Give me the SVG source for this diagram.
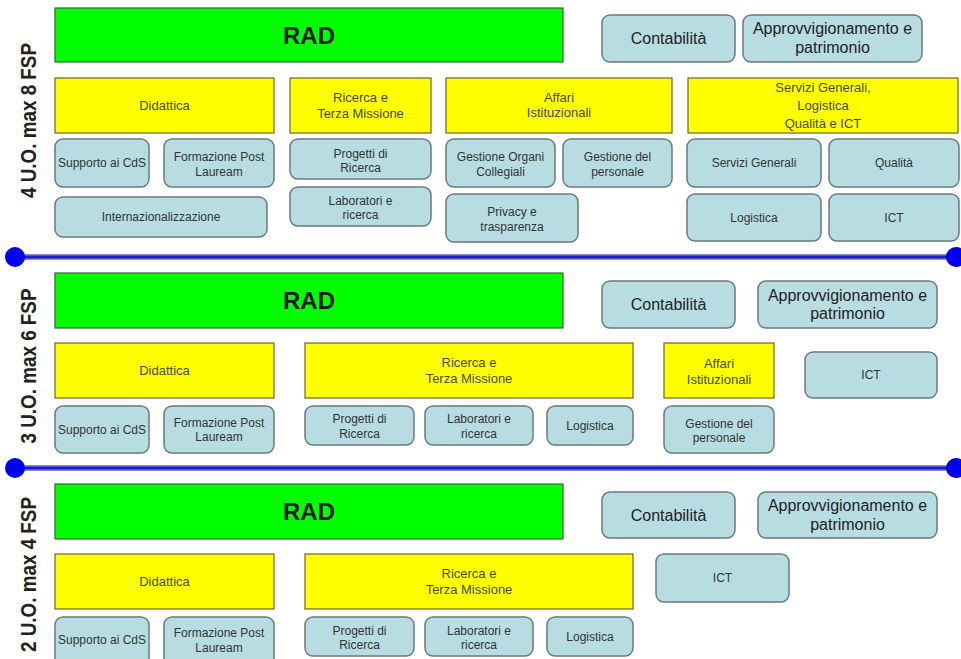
<svg xmlns="http://www.w3.org/2000/svg" width="961" height="659" viewBox="0 0 961 659">
<style>
.rad{fill:#00ff00;stroke:#2f6a2f;stroke-width:1.2}
.y{fill:#ffff00;stroke:#6f6430;stroke-width:1.2}
.b{fill:#b7dde2;stroke:#6c7a7c;stroke-width:1.5}
text{font-family:"Liberation Sans",Arial,sans-serif;text-anchor:middle}
.tr{font-size:24px;font-weight:bold;fill:#1a1a1a}
.ty{font-size:13px;fill:#4a4a33}
.ts{font-size:12px;fill:#333}
.tm{font-size:16px;fill:#222}
.lbl{font-size:22px;font-weight:bold;fill:#222}
.sep{stroke:#8a8ad8;stroke-width:6}
.sepc{stroke:#1c1cc8;stroke-width:3}
.dot{fill:#0000ee}
</style>
<rect width="961" height="659" fill="#ffffff"/>

<g id="separators">
<line class="sep" x1="15" y1="257" x2="956" y2="257"/>
<line class="sepc" x1="15" y1="257" x2="956" y2="257"/>
<circle class="dot" cx="15" cy="257" r="10"/>
<circle class="dot" cx="956" cy="257" r="10"/>
<line class="sep" x1="15" y1="468" x2="956" y2="468"/>
<line class="sepc" x1="15" y1="468" x2="956" y2="468"/>
<circle class="dot" cx="15" cy="468" r="10"/>
<circle class="dot" cx="956" cy="468" r="10"/>
</g>

<g id="labels">
<text class="lbl" transform="translate(36,120.5) rotate(-90)" textLength="155" lengthAdjust="spacingAndGlyphs">4 U.O. max 8 FSP</text>
<text class="lbl" transform="translate(36,366) rotate(-90)" textLength="155" lengthAdjust="spacingAndGlyphs">3 U.O. max 6 FSP</text>
<text class="lbl" transform="translate(36,574.5) rotate(-90)" textLength="155" lengthAdjust="spacingAndGlyphs">2 U.O. max 4 FSP</text>
</g>

<!-- Section 1 -->
<g id="s1-rad"><rect class="rad" x="55" y="8" width="508" height="54"/><text class="tr" x="309" y="43.5">RAD</text></g>
<g id="s1-contabilita"><rect class="b" x="602" y="15" width="133" height="47" rx="8"/><text class="tm" x="668.5" y="44">Contabilità</text></g>
<g id="s1-approv"><rect class="b" x="743" y="15" width="179" height="47" rx="8"/><text class="tm" x="832.5" y="34">Approvvigionamento e</text><text class="tm" x="832.5" y="53">patrimonio</text></g>
<g id="s1-didattica"><rect class="y" x="55" y="78" width="219" height="55"/><text class="ty" x="164.5" y="110">Didattica</text></g>
<g id="s1-ricerca"><rect class="y" x="290" y="78" width="141" height="55"/><text class="ty" x="360.5" y="101.5">Ricerca e</text><text class="ty" x="360.5" y="117.5">Terza Missione</text></g>
<g id="s1-affari"><rect class="y" x="446" y="78" width="226" height="55"/><text class="ty" x="559" y="101.5">Affari</text><text class="ty" x="559" y="117">Istituzionali</text></g>
<g id="s1-servizi"><rect class="y" x="688" y="78" width="270" height="55"/><text class="ty" x="823" y="92">Servizi Generali,</text><text class="ty" x="823" y="110">Logistica</text><text class="ty" x="823" y="127.5">Qualità e ICT</text></g>
<g id="s1-supporto"><rect class="b" x="55" y="139" width="94" height="48" rx="8"/><text class="ts" x="102" y="167">Supporto ai CdS</text></g>
<g id="s1-formazione"><rect class="b" x="164" y="139" width="110" height="48" rx="8"/><text class="ts" x="219" y="161">Formazione Post</text><text class="ts" x="219" y="176">Lauream</text></g>
<g id="s1-intern"><rect class="b" x="55" y="197" width="212" height="40" rx="8"/><text class="ts" x="161" y="221">Internazionalizzazione</text></g>
<g id="s1-progetti"><rect class="b" x="290" y="139" width="141" height="40" rx="8"/><text class="ts" x="360.5" y="158">Progetti di</text><text class="ts" x="360.5" y="172">Ricerca</text></g>
<g id="s1-laboratori"><rect class="b" x="290" y="187" width="141" height="39" rx="8"/><text class="ts" x="360.5" y="205">Laboratori e</text><text class="ts" x="360.5" y="219">ricerca</text></g>
<g id="s1-organi"><rect class="b" x="446" y="139" width="109" height="48" rx="8"/><text class="ts" x="500.5" y="161">Gestione Organi</text><text class="ts" x="500.5" y="176">Collegiali</text></g>
<g id="s1-personale"><rect class="b" x="563" y="139" width="109" height="48" rx="8"/><text class="ts" x="617.5" y="161">Gestione del</text><text class="ts" x="617.5" y="176">personale</text></g>
<g id="s1-privacy"><rect class="b" x="446" y="194" width="132" height="48" rx="8"/><text class="ts" x="512" y="216">Privacy e</text><text class="ts" x="512" y="231">trasparenza</text></g>
<g id="s1-servgen"><rect class="b" x="687" y="139" width="134" height="48" rx="8"/><text class="ts" x="754" y="167">Servizi Generali</text></g>
<g id="s1-qualita"><rect class="b" x="829" y="139" width="130" height="48" rx="8"/><text class="ts" x="894" y="167">Qualità</text></g>
<g id="s1-logistica"><rect class="b" x="687" y="194" width="134" height="47" rx="8"/><text class="ts" x="754" y="222">Logistica</text></g>
<g id="s1-ict"><rect class="b" x="829" y="194" width="130" height="47" rx="8"/><text class="ts" x="894" y="222">ICT</text></g>

<!-- Section 2 -->
<g id="s2-rad"><rect class="rad" x="55" y="273" width="508" height="55"/><text class="tr" x="309" y="309">RAD</text></g>
<g id="s2-contabilita"><rect class="b" x="602" y="281" width="133" height="47" rx="8"/><text class="tm" x="668.5" y="310">Contabilità</text></g>
<g id="s2-approv"><rect class="b" x="758" y="281" width="179" height="47" rx="8"/><text class="tm" x="847.5" y="301">Approvvigionamento e</text><text class="tm" x="847.5" y="319">patrimonio</text></g>
<g id="s2-didattica"><rect class="y" x="55" y="343" width="219" height="55"/><text class="ty" x="164.5" y="375">Didattica</text></g>
<g id="s2-ricerca"><rect class="y" x="305" y="343" width="328" height="55"/><text class="ty" x="469" y="366.5">Ricerca e</text><text class="ty" x="469" y="382.5">Terza Missione</text></g>
<g id="s2-affari"><rect class="y" x="664" y="343" width="110" height="55"/><text class="ty" x="719" y="368">Affari</text><text class="ty" x="719" y="383.5">Istituzionali</text></g>
<g id="s2-ict"><rect class="b" x="805" y="352" width="132" height="46" rx="8"/><text class="ts" x="871" y="379">ICT</text></g>
<g id="s2-supporto"><rect class="b" x="55" y="406" width="94" height="47" rx="8"/><text class="ts" x="102" y="433.5">Supporto ai CdS</text></g>
<g id="s2-formazione"><rect class="b" x="164" y="406" width="110" height="47" rx="8"/><text class="ts" x="219" y="427">Formazione Post</text><text class="ts" x="219" y="441">Lauream</text></g>
<g id="s2-progetti"><rect class="b" x="305" y="406" width="109" height="39" rx="8"/><text class="ts" x="359.5" y="422.5">Progetti di</text><text class="ts" x="359.5" y="437.5">Ricerca</text></g>
<g id="s2-laboratori"><rect class="b" x="425" y="406" width="108" height="39" rx="8"/><text class="ts" x="479" y="422.5">Laboratori e</text><text class="ts" x="479" y="437.5">ricerca</text></g>
<g id="s2-logistica"><rect class="b" x="547" y="406" width="86" height="39" rx="8"/><text class="ts" x="590" y="430">Logistica</text></g>
<g id="s2-personale"><rect class="b" x="664" y="406" width="110" height="47" rx="8"/><text class="ts" x="719" y="427.5">Gestione del</text><text class="ts" x="719" y="442">personale</text></g>

<!-- Section 3 -->
<g id="s3-rad"><rect class="rad" x="55" y="484" width="508" height="55"/><text class="tr" x="309" y="520">RAD</text></g>
<g id="s3-contabilita"><rect class="b" x="602" y="492" width="133" height="46" rx="8"/><text class="tm" x="668.5" y="520.5">Contabilità</text></g>
<g id="s3-approv"><rect class="b" x="758" y="492" width="179" height="46" rx="8"/><text class="tm" x="847.5" y="511">Approvvigionamento e</text><text class="tm" x="847.5" y="530">patrimonio</text></g>
<g id="s3-didattica"><rect class="y" x="55" y="554" width="219" height="55"/><text class="ty" x="164.5" y="586">Didattica</text></g>
<g id="s3-ricerca"><rect class="y" x="305" y="554" width="328" height="55"/><text class="ty" x="469" y="577.5">Ricerca e</text><text class="ty" x="469" y="593.5">Terza Missione</text></g>
<g id="s3-ict"><rect class="b" x="656" y="554" width="133" height="48" rx="8"/><text class="ts" x="722.5" y="582">ICT</text></g>
<g id="s3-supporto"><rect class="b" x="55" y="617" width="94" height="50" rx="8"/><text class="ts" x="102" y="644">Supporto ai CdS</text></g>
<g id="s3-formazione"><rect class="b" x="164" y="617" width="110" height="50" rx="8"/><text class="ts" x="219" y="637">Formazione Post</text><text class="ts" x="219" y="652">Lauream</text></g>
<g id="s3-progetti"><rect class="b" x="305" y="617" width="109" height="39" rx="8"/><text class="ts" x="359.5" y="634.5">Progetti di</text><text class="ts" x="359.5" y="648.5">Ricerca</text></g>
<g id="s3-laboratori"><rect class="b" x="425" y="617" width="108" height="39" rx="8"/><text class="ts" x="479" y="634.5">Laboratori e</text><text class="ts" x="479" y="648.5">ricerca</text></g>
<g id="s3-logistica"><rect class="b" x="547" y="617" width="86" height="39" rx="8"/><text class="ts" x="590" y="641">Logistica</text></g>
</svg>
